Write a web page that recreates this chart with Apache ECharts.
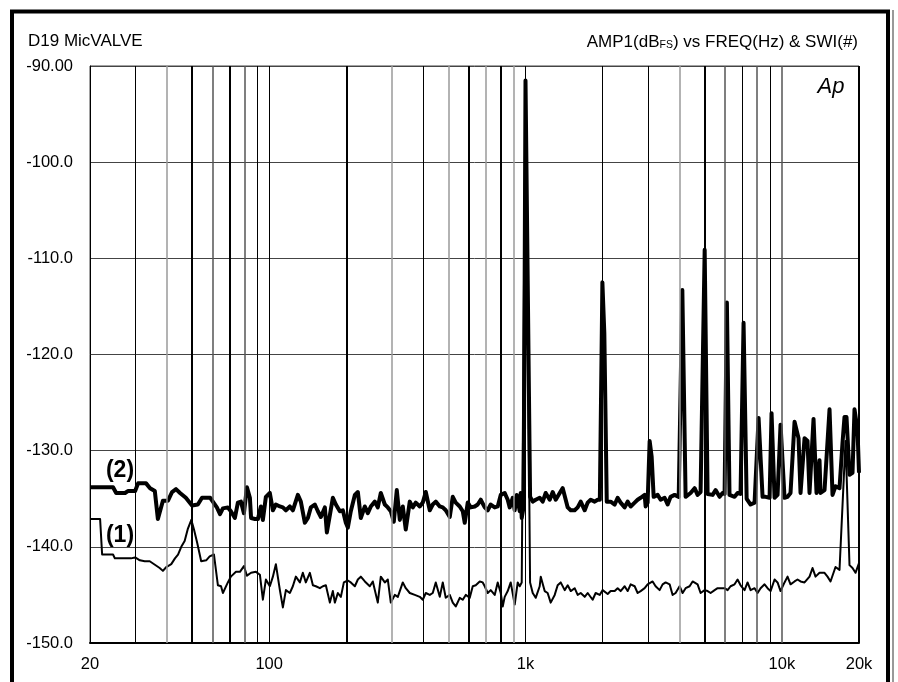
<!DOCTYPE html>
<html>
<head>
<meta charset="utf-8">
<script src="https://cdn.jsdelivr.net/npm/echarts@6/dist/echarts.min.js"></script>
<style>
  html, body { margin: 0; padding: 0; background: #fff; }
  #chart { width: 898px; height: 682px; }
</style>
</head>
<body>
<div id="chart"></div>
<script>
// Trace (2): thick line
const freq2 = [20, 24.6, 25.3, 27.4, 28.1, 30, 30.8, 33.1, 34.3, 35.8, 36.8, 38.5, 40.3, 41.8, 43.3, 44.9, 47.3, 50, 52.7, 54.7,
    58.9, 62.5, 64.3, 66.0, 69.0, 70.9, 73.5, 75.5, 77.6, 79.7, 81.9, 84.1, 85.0, 88.0, 90.4, 92.8, 94.5, 97.1, 100.6, 103.4,
    106.2, 110.1, 113.1, 116.2, 120.4, 123.7, 129.4, 132.9, 137.8, 141.6, 145.4, 150.7, 154.9, 159.1, 164.9, 167.9, 172.5, 177.2, 182.0, 188.7,
    193.8, 199.1, 202.7, 208.2, 215.9, 221.8, 227.8, 236.2, 242.6, 249.2, 258.3, 265.3, 272.6, 282.6, 290.3, 298.2, 306.3, 314.7, 323.3, 332.1,
    341.1, 353.6, 363.3, 373.2, 386.9, 397.4, 408.3, 423.2, 434.7, 446.6, 463.0, 475.6, 488.5, 506.4, 520.3, 534.4, 554.0, 569.1, 579.4, 595.2,
    611.5, 633.8, 651.1, 668.9, 693.4, 712.3, 731.7, 758.4, 779.1, 800.5, 829.6, 852.4, 867.8, 891.5, 907.6, 924.0, 949.4, 958, 966.6, 984,
    1000, 1042, 1067, 1096, 1136, 1167, 1199, 1243, 1277, 1312, 1360, 1397, 1422, 1461, 1501, 1555, 1598, 1642, 1702, 1748,
    1796, 1861, 1912, 1950, 1995, 2030, 2075, 2149, 2228, 2288, 2350, 2437, 2503, 2572, 2666, 2738, 2813, 2916, 2942, 2995,
    3050, 3105, 3162, 3277, 3367, 3489, 3585, 3682, 3817, 3960, 4091, 4213, 4289, 4406, 4568, 4692, 4820, 4907, 5000, 5133,
    5226, 5369, 5516, 5717, 5873, 5980, 6104, 6250, 6541, 6719, 6900, 7091, 7290, 7552, 7828, 8115, 8411, 8640, 8957, 9118,
    9368, 9622, 9885, 10246, 10526, 10813, 11209, 11619, 11829, 12263, 12595, 12824, 13056, 13294, 13656, 14028, 14155, 14674, 14940, 15348,
    15766, 16196, 16788, 17246, 17558, 17878, 18364, 18866, 19208, 19732, 20000];
const amp2 = [-133.8, -133.8, -134.4, -134.4, -134.2, -134.2, -133.4, -133.4, -133.9, -134.2, -137.1, -135.2, -135.2, -134.3, -134.0, -134.4, -134.9, -135.7, -135.6, -134.9,
    -134.9, -135.9, -136.6, -136.0, -135.9, -136.3, -137.0, -135.4, -135.3, -136.5, -133.8, -134.9, -137.0, -137.1, -137.1, -135.8, -137.2, -134.8, -134.4, -136.2,
    -135.6, -135.8, -135.9, -136.2, -135.8, -136.2, -134.6, -135.3, -137.5, -137.0, -135.9, -135.6, -136.3, -136.9, -135.9, -138.5, -136.7, -134.9, -135.6, -136.3,
    -136.2, -137.5, -138.0, -136.3, -134.6, -134.3, -137.0, -135.8, -136.5, -135.8, -135.3, -135.9, -134.4, -135.6, -135.9, -136.3, -137.4, -134.1, -137.2, -135.8,
    -138.2, -135.3, -135.9, -135.4, -135.8, -135.4, -134.3, -136.2, -135.6, -135.3, -135.8, -135.9, -136.2, -136.9, -134.8, -135.4, -135.8, -136.3, -137.5, -135.4,
    -135.9, -135.8, -135.6, -135.1, -135.9, -136.2, -135.6, -135.9, -135.8, -134.6, -134.4, -135.1, -135.9, -134.9, -136.2, -134.6, -136.3, -134.4, -137.0, -135.8,
    -91.5, -134.8, -135.3, -135.1, -134.9, -135.3, -134.4, -135.1, -134.3, -135.1, -134.4, -133.9, -133.7, -135.9, -136.2, -136.2, -135.9, -135.3, -136.2, -135.4,
    -135.1, -135.3, -135.1, -135.1, -112.5, -117.8, -135.3, -135.3, -135.6, -134.9, -135.4, -135.9, -135.3, -135.8, -135.4, -135.1, -134.9, -134.6, -135.8, -135.4,
    -129.0, -130.6, -134.8, -134.6, -135.1, -134.9, -135.6, -134.8, -134.6, -134.8, -113.3, -134.8, -134.6, -134.4, -133.9, -134.6, -134.3, -134.3, -109.1, -134.5,
    -134.4, -134.6, -134.1, -134.8, -134.4, -134.5, -114.6, -134.6, -134.8, -134.4, -134.5, -116.7, -135.0, -135.6, -135.4, -126.6, -134.8, -134.8, -134.9, -126.1,
    -134.9, -134.6, -127.3, -134.9, -134.8, -134.4, -127.0, -128.7, -134.4, -128.7, -129.0, -134.4, -134.4, -126.7, -134.4, -131.0, -134.4, -134.1, -134.1, -125.7,
    -134.6, -133.7, -133.9, -129.2, -126.5, -126.5, -132.5, -132.3, -125.7, -127.8, -132.3];

// Trace (1): thin line
const freq1 = [20, 21.9, 22.3, 24.6, 25.0, 28.9, 30, 31.3, 32.7, 34.2, 37.4, 38.5, 39.7, 41.5, 42.9, 44.1, 45.4, 46.8, 48.2, 49.7,
    50.9, 52.4, 54.3, 56.8, 58.6, 60.9, 63.1, 64.9, 66.0, 69.0, 70.9, 74.2, 76.9, 79.7, 81.9, 85.0, 88.8, 92.0, 94.5, 97.1,
    100.6, 103.4, 106.2, 110.1, 113.1, 116.2, 120.4, 123.7, 127.1, 131.8, 135.3, 139.0, 144.1, 148.1, 152.1, 157.7, 162.0, 166.4, 172.5, 177.2,
    180.4, 185.3, 190.4, 195.6, 202.7, 208.2, 215.9, 221.8, 227.8, 236.2, 246.9, 253.7, 265.3, 272.6, 282.6, 290.3, 298.2, 309.1, 317.6, 332.1,
    341.1, 353.6, 369.9, 386.9, 397.4, 408.3, 423.2, 434.7, 446.6, 463.0, 475.6, 488.5, 506.4, 520.3, 534.4, 554.0, 569.1, 584.6, 606.0, 622.6,
    639.5, 662.9, 681.0, 693.4, 712.3, 731.7, 758.4, 779.1, 800.5, 815.0, 829.6, 852.4, 875.6, 907.6, 932.5, 949.4, 966.6, 984, 1000, 1042,
    1067, 1096, 1136, 1147, 1188, 1220, 1254, 1300, 1335, 1372, 1422, 1461, 1501, 1555, 1598, 1642, 1702, 1748, 1828, 1878,
    1947, 2000, 2092, 2149, 2228, 2288, 2350, 2437, 2503, 2572, 2666, 2738, 2813, 2916, 2995, 3133, 3218, 3336, 3427, 3521,
    3650, 3749, 3851, 3992, 4101, 4213, 4367, 4487, 4568, 4692, 4820, 5000, 5133, 5274, 5467, 5616, 5768, 5980, 6143, 6310,
    6541, 6719, 6903, 7154, 7350, 7552, 7828, 8042, 8262, 8563, 8797, 9037, 9368, 9622, 9885, 10246, 10526, 10813, 11209, 11515,
    11829, 12263, 12824, 13176, 13534, 14028, 14674, 15074, 15486, 16196, 16788, 17092, 17718, 18364, 18866, 19382, 20000];
const amp1 = [-137.1, -137.1, -140.8, -140.8, -141.2, -141.2, -141.1, -141.4, -141.5, -141.5, -142.2, -142.5, -142.1, -141.8, -141.2, -140.8, -140.0, -139.4, -138.1, -137.2,
    -138.2, -139.6, -141.5, -141.4, -141.0, -140.8, -144.0, -144.1, -144.8, -143.7, -143.1, -142.6, -142.6, -142.0, -143.0, -142.7, -142.6, -142.9, -145.5, -143.4,
    -144.1, -143.1, -141.8, -144.5, -146.3, -144.5, -144.8, -144.1, -143.1, -143.7, -142.7, -143.7, -142.7, -144.0, -144.1, -144.3, -144.1, -144.0, -145.8, -144.6,
    -145.8, -144.8, -145.2, -143.7, -143.5, -143.7, -144.1, -143.4, -143.1, -143.6, -144.1, -143.6, -145.8, -143.1, -143.7, -143.4, -145.8, -145.0, -145.2, -143.7,
    -144.3, -144.8, -145.0, -145.2, -145.5, -144.8, -145.0, -144.8, -143.7, -145.2, -143.7, -145.3, -145.0, -145.8, -146.2, -145.3, -145.5, -145.0, -145.3, -144.1,
    -144.0, -143.6, -143.7, -144.1, -144.8, -144.5, -145.0, -143.7, -144.8, -146.2, -145.2, -144.6, -143.7, -146.0, -143.7, -144.1, -143.7, -143.7, -92.0, -143.7,
    -144.8, -145.3, -144.1, -143.1, -144.6, -144.8, -145.8, -145.0, -144.0, -143.7, -144.5, -144.0, -144.6, -144.3, -145.0, -144.8, -145.2, -144.8, -145.5, -144.8,
    -145.0, -144.5, -144.9, -144.6, -144.6, -144.3, -144.6, -144.1, -144.6, -143.9, -144.1, -144.8, -144.6, -144.3, -143.9, -143.6, -144.1, -144.5, -143.9, -143.7,
    -143.9, -145.0, -144.8, -144.1, -144.8, -144.3, -144.1, -143.6, -143.4, -143.9, -144.8, -144.5, -144.6, -144.8, -144.5, -144.3, -144.3, -144.3, -144.5, -144.1,
    -143.9, -143.4, -144.0, -144.5, -143.7, -144.5, -144.3, -144.8, -144.3, -143.9, -144.3, -144.6, -143.4, -143.7, -144.6, -143.7, -143.1, -143.9, -143.6, -143.4,
    -143.6, -143.7, -143.1, -142.2, -143.1, -142.7, -142.7, -143.1, -143.6, -142.1, -142.4, -142.2, -129.0, -141.9, -142.2, -142.7, -141.7];

// vertical grid lines (Hz) and their weight: 0 thin, 1 gray, 2 heavy, 3 mid gray
const gridFreqs = [30, 40, 50, 60, 70, 80, 90, 100, 200, 300, 400, 500, 600, 700, 800, 900,
    1000, 2000, 3000, 4000, 5000, 6000, 7000, 8000, 9000, 10000, 20000];
const gridKinds = [0, 1, 2, 3, 2, 3, 0, 0, 2, 1, 0, 1, 2, 1, 2, 1,
    0, 0, 0, 1, 2, 3, 0, 3, 0, 3, 2];

const FONT = "'Liberation Sans', Arial, sans-serif";
const kindStyle = [
    { color: '#000', width: 1 },
    { color: '#9a9a9a', width: 1.5 },
    { color: '#000', width: 2 },
    { color: '#555', width: 1.5 },
];

const chart = echarts.init(document.getElementById('chart'));

const option = {
    animation: false,
    backgroundColor: '#fff',
    grid: {
        left: 90, right: 39, top: 66, bottom: 39,
        show: true, borderColor: '#444', borderWidth: 1,
    },
    xAxis: {
        type: 'log',
        logBase: 10,
        min: 20,
        max: 20000,
        axisLine: { show: true, onZero: false, lineStyle: { color: '#000', width: 2 } },
        axisTick: { show: false },
        splitLine: { show: false },
        axisLabel: {
            color: '#000', fontSize: 16.5, fontFamily: FONT, margin: 13,
            showMinLabel: true, showMaxLabel: true,
            formatter: function (v) {
                const r = Math.round(v);
                return r >= 1000 ? (r / 1000) + 'k' : String(r);
            },
        },
    },
    yAxis: {
        type: 'value',
        min: -150,
        max: -90,
        interval: 10,
        axisLine: { show: true, lineStyle: { color: '#000', width: 1 } },
        axisTick: { show: false },
        splitLine: { show: true, lineStyle: { color: '#444', width: 1 } },
        axisLabel: {
            color: '#000', fontSize: 16.5, fontFamily: FONT, margin: 17,
            verticalAlign: 'middle', padding: [11, 0, 0, 0],
            formatter: function (v) {
                return v === -90 ? '-90.00' : v.toFixed(1);
            },
        },
    },
    series: [
        {
            name: 'grid',
            type: 'line',
            data: [],
            z: 1,
            silent: true,
            markLine: {
                silent: true,
                symbol: ['none', 'none'],
                label: { show: false },
                data: gridFreqs.map((f, i) => ({
                    xAxis: f,
                    lineStyle: { type: 'solid', color: kindStyle[gridKinds[i]].color, width: kindStyle[gridKinds[i]].width },
                })),
            },
        },
        {
            name: '(1)',
            type: 'line',
            data: freq1.map((f, i) => [f, amp1[i]]),
            showSymbol: false,
            z: 3,
            lineStyle: { color: '#000', width: 2, join: 'round' },
        },
        {
            name: '(2)',
            type: 'line',
            data: freq2.map((f, i) => [f, amp2[i]]),
            showSymbol: false,
            z: 4,
            lineStyle: { color: '#000', width: 4, join: 'round' },
        },
    ],
    graphic: [
        {
            type: 'rect', silent: true, z: 10,
            shape: { x: 12, y: 11.5, width: 876, height: 720 },
            style: { fill: 'none', stroke: '#000', lineWidth: 4 },
        },
        {
            type: 'line', silent: true, z: 10,
            shape: { x1: 893, y1: 10, x2: 893, y2: 682 },
            style: { stroke: '#999', lineWidth: 2 },
        },
        {
            type: 'text', silent: true, z: 10,
            style: { x: 28, y: 41, text: 'D19 MicVALVE', fill: '#000', font: '17px ' + FONT, verticalAlign: 'middle' },
        },
        {
            type: 'text', silent: true, z: 10,
            style: {
                x: 858, y: 41, align: 'right', verticalAlign: 'middle',
                text: '{a|AMP1(dB}{s|FS}{a|) vs FREQ(Hz) & SWI(#)}',
                rich: {
                    a: { fontSize: 17, fontFamily: FONT, fill: '#000', lineHeight: 19, verticalAlign: 'bottom' },
                    s: { fontSize: 10.5, fontFamily: FONT, fill: '#000', lineHeight: 19, verticalAlign: 'bottom' },
                },
            },
        },
        {
            type: 'text', silent: true, z: 10,
            style: { x: 831, y: 87, text: 'Ap', fill: '#000', font: 'italic 22px ' + FONT, align: 'center', verticalAlign: 'middle' },
        },
        {
            type: 'text', silent: true, z: 10,
            style: { x: 120, y: 471, text: '(2)', fill: '#000', font: 'bold 23px ' + FONT, align: 'center', verticalAlign: 'middle' },
        },
        {
            type: 'text', silent: true, z: 10,
            style: { x: 120, y: 536, text: '(1)', fill: '#000', font: 'bold 23px ' + FONT, align: 'center', verticalAlign: 'middle' },
        },
    ],
};

chart.setOption(option);
</script>
</body>
</html>
